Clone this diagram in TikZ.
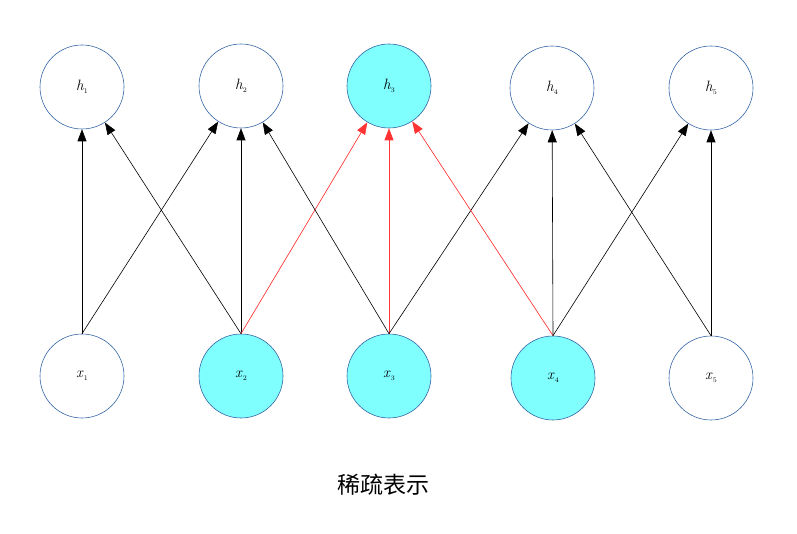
\documentclass[tikz,border=0pt]{standalone}
\usepackage{fontspec}
\newfontfamily\cjk{Noto Sans CJK SC}
\usetikzlibrary{arrows.meta}
\definecolor{cb}{HTML}{3465A4}
\definecolor{cf}{HTML}{80FFFF}
\definecolor{rd}{HTML}{FF3333}
\newcommand{\lab}[2]{\textit{#1}\raisebox{-0.45ex}{\fontsize{7}{7}\selectfont #2}}
\begin{document}
\begin{tikzpicture}[x=1pt,y=-1pt,
  nd/.style={circle,draw=cb,line width=0.6pt,minimum size=84pt,inner sep=0pt,font=\fontsize{15}{15}\selectfont},
  on/.style={nd,fill=cf},
  ar/.style={-{Triangle[length=12pt,width=9pt]},line width=0.6pt},
  rr/.style={ar,draw=rd,fill=rd}]
\useasboundingbox (0,0) rectangle (797,534);
\node[nd] (h1) at (82,87) {\lab{h}{1}};
\node[nd] (h2) at (241,86) {\lab{h}{2}};
\node[on] (h3) at (389,86) {\lab{h}{3}};
\node[nd] (h4) at (552,88) {\lab{h}{4}};
\node[nd] (h5) at (711,88) {\lab{h}{5}};
\node[nd] (x1) at (82,376) {\lab{x}{1}};
\node[on] (x2) at (241,376) {\lab{x}{2}};
\node[on] (x3) at (389,376) {\lab{x}{3}};
\node[on] (x4) at (553,378) {\lab{x}{4}};
\node[nd] (x5) at (711,378) {\lab{x}{5}};
\draw[ar] (x1.north) -- (h1);
\draw[ar] (x1.north) -- (h2);
\draw[ar] (x2.north) -- (h1);
\draw[ar] (x2.north) -- (h2);
\draw[rr] (x2.north) -- (h3);
\draw[ar] (x3.north) -- (h2);
\draw[rr] (x3.north) -- (h3);
\draw[ar] (x3.north) -- (h4);
\draw[rr] (x4.north) -- (h3);
\draw[ar] (x4.north) -- (h4);
\draw[ar] (x4.north) -- (h5);
\draw[ar] (x5.north) -- (h4);
\draw[ar] (x5.north) -- (h5);
\node[font=\cjk\fontsize{23}{23}\selectfont] (t) at (383,485) {稀疏表示};
\end{tikzpicture}
\end{document}
